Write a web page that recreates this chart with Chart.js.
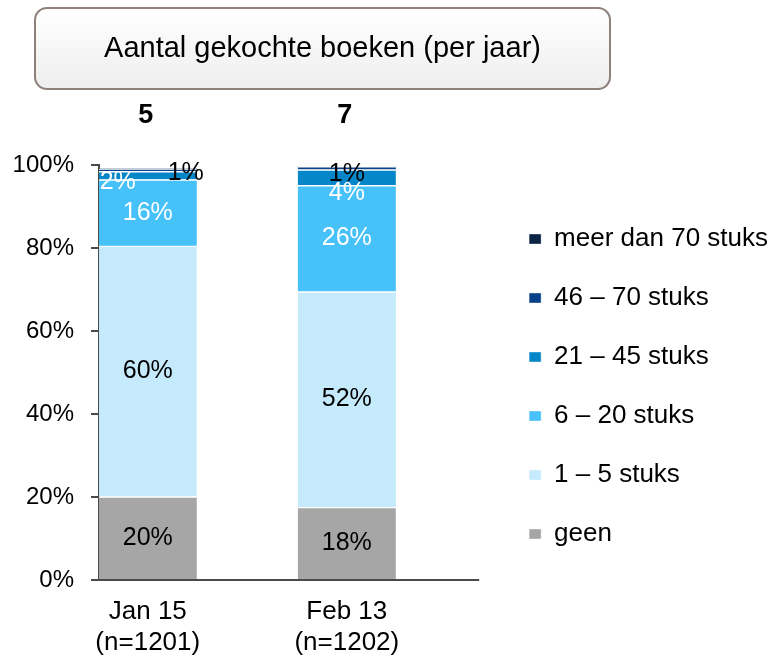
<!DOCTYPE html>
<html><head><meta charset="utf-8">
<script src="https://cdn.jsdelivr.net/npm/chart.js@4"></script>
<style>html,body{margin:0;padding:0;background:#fff}canvas{display:block}</style>
</head><body>
<canvas id="c" width="773" height="656" style="width:773px;height:656px"></canvas>
<script>
// ---- data ----
const chartTitle = 'Aantal gekochte boeken (per jaar)';
const categories = ['Jan 15', 'Feb 13'];
const sampleSizes = ['(n=1201)', '(n=1202)'];
const averages = [5, 7];
const seriesNames = ['geen', '1 – 5 stuks', '6 – 20 stuks', '21 – 45 stuks', '46 – 70 stuks', 'meer dan 70 stuks'];
const geen = [20.1, 17.6];
const stuks1to5 = [60.4, 51.9];
const stuks6to20 = [16.0, 25.6];
const stuks21to45 = [2.0, 3.8];
const stuks46to70 = [0.5, 0.8];
const meerDan70 = [0, 0];
const yTicks = [0, 20, 40, 60, 80, 100];

// ---- styles ----
const FONT = "'Liberation Sans', Arial, sans-serif";
const AXIS = '#4a4a4a';
const axisEndValue = 3.33;
const seriesValues = [geen, stuks1to5, stuks6to20, stuks21to45, stuks46to70, meerDan70];
const seriesColors = ['#A6A6A6', '#C4EAFC', '#47C1FA', '#0586C8', '#08418A', '#0B2444'];
const labelColors = ['#000', '#000', '#fff', '#fff', '#000', '#000'];
const labelShift = {'3-0': [-30, 7], '4-0': [38, 3], '3-1': [0, 16], '4-1': [0, 6]};

const datasets = seriesNames.map((name, s) => ({
  label: name,
  data: categories.map((c, i) => ({x: i * 2, y: seriesValues[s][i]})),
  backgroundColor: seriesColors[s],
  borderColor: '#ffffff',
  borderWidth: {top: 1.5, bottom: 0, left: 0, right: 0},
  borderSkipped: false,
  barThickness: 98
}));

// let the right-hand legend be as wide as its text needs
const legendWidthPlugin = {
  id: 'legendWidth',
  beforeLayout(chart) {
    const lg = chart.legend;
    if (lg && !lg._wideFit) {
      const orig = lg.fit;
      lg.fit = function () {
        this.maxWidth = Math.max(this.maxWidth, 400);
        orig.call(this);
        this.width -= 10;
      };
      lg._wideFit = true;
    }
  }
};

const titleBoxPlugin = {
  id: 'titleBox',
  beforeDraw(chart) {
    const ctx = chart.ctx;
    ctx.save();
    const x = 35, y = 8, w = 575, h = 81;
    const g = ctx.createLinearGradient(0, y, 0, y + h);
    g.addColorStop(0, '#ffffff');
    g.addColorStop(1, '#eeeeee');
    ctx.beginPath();
    ctx.roundRect(x, y, w, h, 12);
    ctx.fillStyle = g;
    ctx.fill();
    ctx.lineWidth = 2;
    ctx.strokeStyle = '#8E807B';
    ctx.stroke();
    ctx.fillStyle = '#000';
    ctx.font = '29px ' + FONT;
    ctx.textAlign = 'center';
    ctx.textBaseline = 'middle';
    ctx.fillText(chartTitle, x + w / 2, y + h / 2);
    ctx.restore();
  }
};

const baselinePlugin = {
  id: 'baseline',
  afterDatasetsDraw(chart) {
    const {ctx, scales: {x, y}} = chart;
    const py = y.getPixelForValue(0);
    ctx.save();
    ctx.strokeStyle = AXIS;
    ctx.lineWidth = 2;
    ctx.beginPath();
    ctx.moveTo(chart.chartArea.left, py);
    ctx.lineTo(x.getPixelForValue(axisEndValue), py);
    ctx.stroke();
    ctx.restore();
  }
};

const labelsPlugin = {
  id: 'valueLabels',
  afterDatasetsDraw(chart) {
    const ctx = chart.ctx;
    ctx.save();
    ctx.textAlign = 'center';
    ctx.textBaseline = 'middle';
    ctx.font = '25px ' + FONT;
    chart.data.datasets.forEach((ds, s) => {
      const meta = chart.getDatasetMeta(s);
      meta.data.forEach((el, i) => {
        const v = Math.round(seriesValues[s][i]);
        if (!v) return;
        const sh = labelShift[s + '-' + i] || [0, 0];
        ctx.fillStyle = labelColors[s];
        ctx.fillText(v + '%', el.x + sh[0], (el.y + el.base) / 2 + sh[1]);
      });
    });
    // averages above bars
    ctx.font = 'bold 27px ' + FONT;
    ctx.fillStyle = '#000';
    const meta0 = chart.getDatasetMeta(0);
    meta0.data.forEach((el, i) => {
      ctx.fillText(String(averages[i]), el.x - 2, chart.chartArea.top - 49);
    });
    ctx.restore();
  }
};

new Chart(document.getElementById('c'), {
  type: 'bar',
  data: {datasets},
  options: {
    responsive: false,
    animation: false,
    devicePixelRatio: 1,
    layout: {autoPadding: false, padding: {top: 165, left: 12, right: 5, bottom: 0}},
    plugins: {
      legend: {
        position: 'right',
        fullSize: false,
        align: 'end',
        reverse: true,
        labels: {
          boxWidth: 12, boxHeight: 10, padding: 33, color: '#000',
          font: {family: FONT, size: 26}
        }
      },
      tooltip: {enabled: false}
    },
    scales: {
      x: {
        type: 'linear',
        stacked: true,
        offset: false,
        min: -0.49, max: 3.5,
        afterBuildTicks: (scale) => { scale.ticks = categories.map((c, i) => ({value: i * 2})); },
        afterFit: (scale) => { scale.height = 76; },
        grid: {display: false, drawTicks: false},
        border: {display: false},
        ticks: {
          color: '#000', padding: 16, maxRotation: 0, autoSkip: false,
          font: {family: FONT, size: 26, lineHeight: 1.2},
          callback: (v) => [categories[v / 2], sampleSizes[v / 2]]
        }
      },
      y: {
        stacked: true,
        min: 0, max: 100,
        afterBuildTicks: (scale) => { scale.ticks = yTicks.map(v => ({value: v})); },
        afterFit: (scale) => { scale.width = 87; },
        grid: {drawOnChartArea: false, tickLength: 8, color: AXIS, lineWidth: 2},
        border: {display: true, color: AXIS, width: 2},
        ticks: {
          color: '#000', padding: 17,
          font: {family: FONT, size: 24},
          callback: (v) => v + '%'
        }
      }
    }
  },
  plugins: [legendWidthPlugin, titleBoxPlugin, baselinePlugin, labelsPlugin]
});
</script>
</body></html>
